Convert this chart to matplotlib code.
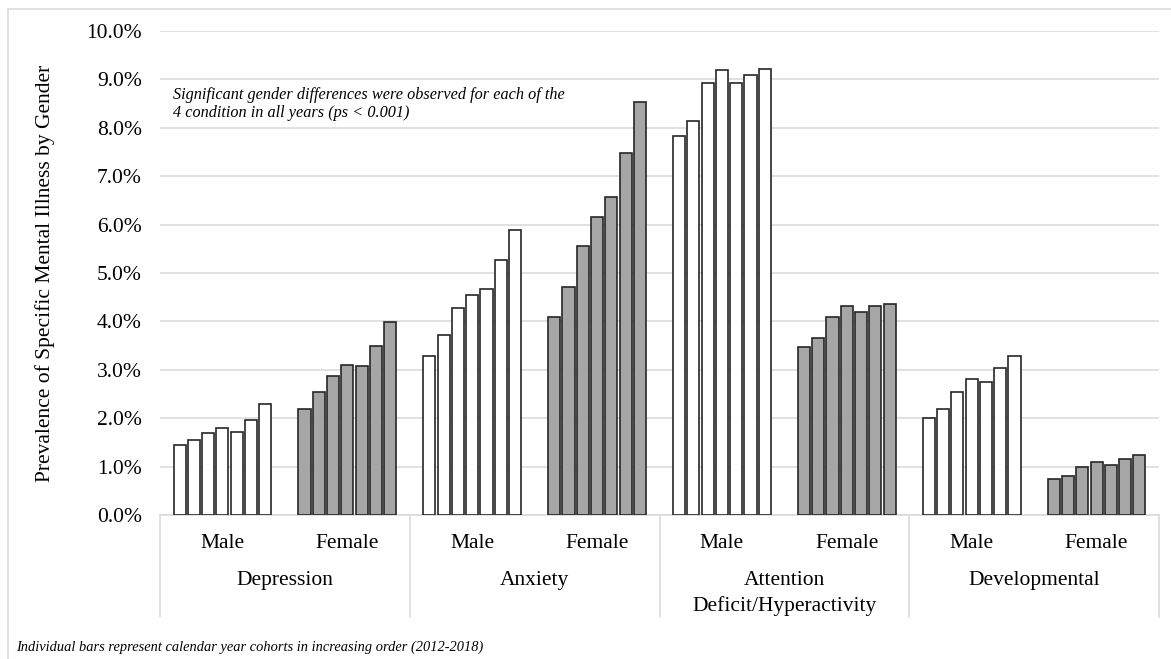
import matplotlib
matplotlib.use("Agg")
import matplotlib.pyplot as plt
from matplotlib.patches import Rectangle
from matplotlib.ticker import FuncFormatter

conditions = ["Depression", "Anxiety", "Attention\nDeficit/Hyperactivity", "Developmental"]
genders = ["Male", "Female"]
years = [2012, 2013, 2014, 2015, 2016, 2017, 2018]

# prevalence in percent, one list per condition, years 2012-2018
male = [
    [1.45, 1.55, 1.70, 1.80, 1.72, 1.97, 2.30],
    [3.28, 3.72, 4.27, 4.55, 4.66, 5.26, 5.89],
    [7.83, 8.15, 8.92, 9.20, 8.93, 9.10, 9.22],
    [2.00, 2.18, 2.55, 2.81, 2.75, 3.04, 3.28],
]
female = [
    [2.18, 2.54, 2.88, 3.09, 3.07, 3.50, 3.99],
    [4.10, 4.71, 5.56, 6.15, 6.58, 7.48, 8.53],
    [3.48, 3.66, 4.10, 4.31, 4.19, 4.31, 4.35],
    [0.75, 0.81, 0.99, 1.10, 1.04, 1.15, 1.25],
]

plt.rcParams["font.family"] = ["Liberation Serif", "DejaVu Serif"]

fig = plt.figure(figsize=(11.71, 6.59), dpi=100)
ax = fig.add_axes([160 / 1171, 1 - 515 / 659, 999 / 1171, 484 / 659])

pitch = 0.8 / 7
width = 0.097
edge = "#262626"
for ci in range(len(conditions)):
    for gi, (vals, fill) in enumerate([(male[ci], "white"), (female[ci], "#a6a6a6")]):
        center = ci * 2 + gi + 0.5
        xs = [center + (j - 3) * pitch for j in range(len(years))]
        ax.bar(xs, vals, width=width, color=fill, edgecolor=edge, linewidth=1.2, zorder=3)

ax.set_xlim(0, 8)
ax.set_ylim(0, 10)
ax.set_yticks(range(0, 11))
ax.yaxis.set_major_formatter(FuncFormatter(lambda v, p: f"{v:.1f}%"))
ax.tick_params(axis="y", length=0, pad=13, labelsize=15.5)
ax.set_xticks([])
ax.grid(axis="y", color="#d9d9d9", linewidth=1.1, zorder=0)
for s in ["top", "right", "left"]:
    ax.spines[s].set_visible(False)
ax.spines["bottom"].set_color("#d9d9d9")
ax.spines["bottom"].set_linewidth(1.1)

# category separators below the axis
for x in range(0, 9, 2):
    ax.plot([x, x], [0, -2.1], color="#d9d9d9", linewidth=1.1, clip_on=False)

for ci, name in enumerate(conditions):
    for gi, g in enumerate(genders):
        ax.text(ci * 2 + gi + 0.5, -0.68, g, ha="center", va="baseline", fontsize=15.5)
    for k, line in enumerate(name.split("\n")):
        ax.text(ci * 2 + 1, -1.45 - k * 0.54, line, ha="center", va="baseline", fontsize=15.5)

ax.set_ylabel("Prevalence of Specific Mental Illness by Gender", fontsize=15.5)
ax.yaxis.set_label_coords(-105 / 999, 0.5)

fig.text(173 / 1171, 1 - 104 / 659,
         "Significant gender differences were observed for each of the\n4 condition in all years (ps < 0.001)",
         fontsize=11.7, style="italic", va="center", linespacing=1.15)
fig.text(16 / 1171, 1 - 647 / 659,
         "Individual bars represent calendar year cohorts in increasing order (2012-2018)",
         fontsize=10.4, style="italic", va="center")

fig.patches.append(Rectangle((8 / 1171, -0.1), 1.2, 1 - 9 / 659 + 0.1, transform=fig.transFigure,
                             fill=False, edgecolor="#d9d9d9", linewidth=1.1))

fig.savefig("out.png", dpi=100)
